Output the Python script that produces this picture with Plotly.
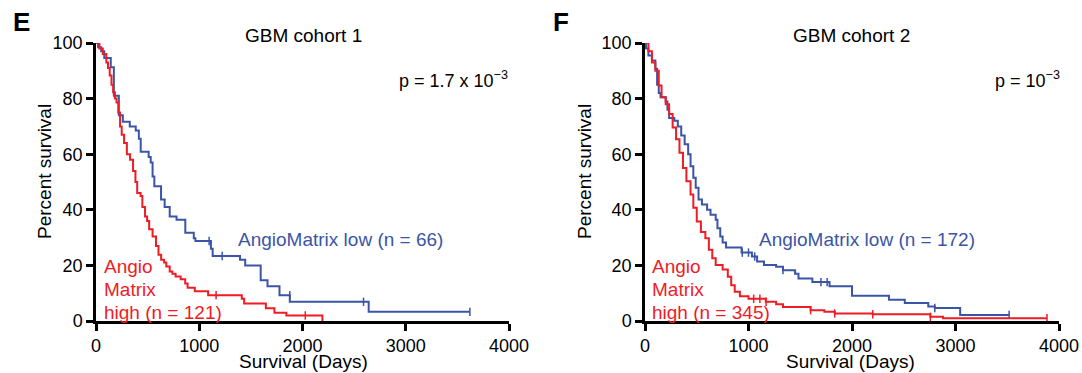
import plotly.graph_objects as go

# ---------------- data ----------------
# Cohort 1 - AngioMatrix low (n = 66)
t_low1 = [0, 20, 50, 80, 143, 173, 221, 260, 327, 385, 415, 433, 510, 530, 548, 565, 630, 665,
          714, 780, 865, 947, 963, 1113, 1130, 1395, 1445, 1595, 1661, 1777, 1877, 2641, 3621]
s_low1 = [100, 98.5, 97, 94.6, 91.3, 81, 74, 71.7, 70, 68.5, 65.6, 60.9, 59, 57, 52, 48.5, 43.7, 41,
          37.6, 36.4, 31.7, 29.8, 28.8, 26, 23.4, 22, 20, 14.7, 12.5, 9.3, 6.9, 3.3, 3.3]
c_low1_t = [1096, 1222, 1877, 2591, 3621]
c_low1_s = [28.8, 23.4, 9.3, 6.9, 3.3]

# Cohort 1 - AngioMatrix high (n = 121)
t_high1 = [0, 33, 66, 100, 116, 133, 150, 166, 183, 199, 216, 233, 249, 272, 299, 330, 359, 382,
           399, 432, 449, 475, 495, 515, 548, 581, 605, 631, 660, 681, 714, 740, 771, 820, 864, 887,
           957, 1086, 1412, 1435, 1645, 1728, 1844, 2193]
s_high1 = [100, 98, 96, 93, 91, 88.3, 85, 82.3, 80, 78.6, 75, 70, 67, 64, 60, 58, 54, 50,
           46, 45, 41, 37.6, 36, 33, 30.4, 27, 23.8, 22, 21, 19.6, 17.8, 17, 16, 15, 13.5, 12,
           10.7, 9.3, 8, 6.3, 4.6, 3, 2, 0]
c_high1_t = [1163, 2027]
c_high1_s = [9.3, 2]

# Cohort 2 - AngioMatrix low (n = 172)
t_low2 = [0, 10, 33, 67, 100, 117, 133, 150, 200, 217, 233, 283, 317, 350, 383, 417, 440, 467,
          490, 517, 550, 600, 633, 683, 700, 727, 750, 783, 933, 1033, 1083, 1150, 1267, 1333,
          1450, 1483, 1617, 1783, 2000, 2357, 2510, 2737, 2800, 3045, 3518]
s_low2 = [100, 98, 95.5, 93.7, 90.7, 85, 82, 80.5, 79, 76, 73, 72, 70, 66.7, 63.6, 60, 55.7, 51.5,
          47.9, 43.7, 41.9, 40, 38.2, 36.4, 33.4, 30.4, 28.2, 26.4, 24.6, 23.2, 21.4, 20.1, 19.5, 18.3,
          17, 15.3, 14, 12.5, 9.1, 7.6, 6.5, 5.2, 4.7, 2.2, 2.2]
c_low2_t = [940, 1000, 1060, 1333, 1700, 1760, 2800, 3518]
c_low2_s = [24.6, 24.6, 23.2, 18.3, 14, 14, 4.7, 2.2]

# Cohort 2 - AngioMatrix high (n = 345)
t_high2 = [0, 33, 67, 100, 133, 160, 200, 233, 267, 300, 333, 367, 400, 440, 467, 500, 540, 583,
           617, 650, 683, 750, 800, 833, 867, 917, 1000, 1167, 1267, 1333, 1600, 1733, 1833, 2200,
           2757, 2880, 3884]
s_high2 = [100, 97, 93, 90, 84.7, 80.5, 78, 74.5, 69.6, 65.4, 60.5, 55, 50.3, 45.5, 40.7, 35.8, 32,
           29.8, 25.6, 22.6, 20.1, 18.5, 15.9, 12.9, 10.5, 8.9, 8, 6.9, 6, 5, 3.9, 3.3, 2.7, 2.4,
           1.5, 1, 1]
c_high2_t = [1050, 1110, 1170, 1600, 1833, 2200, 2757, 3884]
c_high2_s = [8, 8, 6.9, 3.9, 2.7, 2.4, 1.5, 1]

x_ticks = [0, 1000, 2000, 3000, 4000]
y_ticks = [0, 20, 40, 60, 80, 100]

BLUE = "#3B55A6"
RED = "#EE1C25"
FONT = "Liberation Sans, Arial, sans-serif"

fig = go.Figure()

panels = [
    ("x", "y", t_low1, s_low1, c_low1_t, c_low1_s, t_high1, s_high1, c_high1_t, c_high1_s),
    ("x2", "y2", t_low2, s_low2, c_low2_t, c_low2_s, t_high2, s_high2, c_high2_t, c_high2_s),
]
for xa, ya, tl, sl, clt, cls, th, sh, cht, chs in panels:
    fig.add_trace(go.Scatter(x=tl, y=sl, mode="lines", line=dict(color=BLUE, width=2, shape="hv"),
                             xaxis=xa, yaxis=ya, showlegend=False))
    fig.add_trace(go.Scatter(x=clt, y=cls, mode="markers",
                             marker=dict(symbol="line-ns", size=6, line=dict(color=BLUE, width=1.5)),
                             xaxis=xa, yaxis=ya, showlegend=False, cliponaxis=False))
    fig.add_trace(go.Scatter(x=th, y=sh, mode="lines", line=dict(color=RED, width=2, shape="hv"),
                             xaxis=xa, yaxis=ya, showlegend=False))
    fig.add_trace(go.Scatter(x=cht, y=chs, mode="markers",
                             marker=dict(symbol="line-ns", size=6, line=dict(color=RED, width=1.5)),
                             xaxis=xa, yaxis=ya, showlegend=False, cliponaxis=False))

# page body margin is removed in post_script, so page pixels == figure pixels
W, H = 1082, 373
def px(x):
    return x / W
def py(y):
    return 1 - y / H

ytop, ybot = 43, 321
ydom = [py(ybot), py(ytop)]

axis_common = dict(showgrid=False, zeroline=False, showline=True, linecolor="black", linewidth=2.5,
                   ticks="outside", ticklen=7, tickwidth=2.5, tickcolor="black", automargin=False,
                   tickfont=dict(family=FONT, size=18, color="black"))

fig.update_layout(
    width=W, height=H, margin=dict(l=0, r=0, t=0, b=0),
    paper_bgcolor="white", plot_bgcolor="white",
    xaxis=dict(domain=[px(96), px(509)], range=[0, 4000], tickvals=x_ticks, anchor="y", **axis_common),
    yaxis=dict(domain=ydom, range=[0, 100], tickvals=y_ticks, anchor="x", **axis_common),
    xaxis2=dict(domain=[px(645), px(1059)], range=[0, 4000], tickvals=x_ticks, anchor="y2", **axis_common),
    yaxis2=dict(domain=ydom, range=[0, 100], tickvals=y_ticks, anchor="x2", **axis_common),
)

ann = []
def txt(x, y, s, size=19, color="black", xanchor="center", yanchor="middle", **kw):
    ann.append(dict(x=px(x), y=py(y), xref="paper", yref="paper", text=s, showarrow=False,
                    xanchor=xanchor, yanchor=yanchor, font=dict(family=FONT, size=size, color=color), **kw))

# panel letters
txt(11, 22, "<b>E</b>", size=26, xanchor="left")
txt(551, 22, "<b>F</b>", size=26, xanchor="left")
# titles
txt(303, 36, "GBM cohort 1")
txt(851, 36, "GBM cohort 2")
# p values
txt(510, 79, "p = 1.7 x 10<sup>−3</sup>", size=18, xanchor="right")
txt(1062, 79, "p = 10<sup>−3</sup>", size=18, xanchor="right")
# axis titles
txt(44, 172, "Percent survival", textangle=-90)
txt(584, 172, "Percent survival", textangle=-90)
txt(303, 361, "Survival (Days)")
txt(850, 361, "Survival (Days)")
# group labels
txt(236, 239, "AngioMatrix low (n = 66)", color=BLUE, xanchor="left")
txt(757, 239, "AngioMatrix low (n = 172)", color=BLUE, xanchor="left")
for x0, lab in [(102, "high (n = 121)"), (650, "high (n = 345)")]:
    txt(x0, 266, "Angio", color=RED, xanchor="left")
    txt(x0, 289, "Matrix", color=RED, xanchor="left")
    txt(x0, 312, lab, color=RED, xanchor="left")

fig.update_layout(annotations=ann)
fig.write_html("out.html", config={"displayModeBar": False},
               post_script="document.body.style.margin='0';document.body.style.overflow='hidden';")
